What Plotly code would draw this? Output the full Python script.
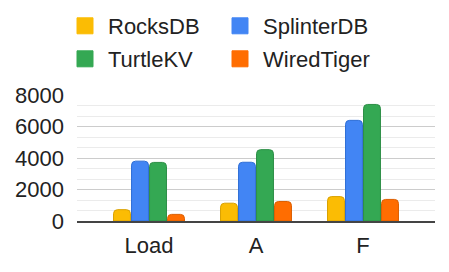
import plotly.graph_objects as go

categories = ["Load", "A", "F"]
series_names = ["RocksDB", "SplinterDB", "TurtleKV", "WiredTiger"]
rocksdb = [720, 1130, 1550]
splinterdb = [3800, 3730, 6390]
turtlekv = [3720, 4530, 7400]
wiredtiger = [420, 1240, 1370]
y_ticks = [0, 2000, 4000, 6000, 8000]

values = [rocksdb, splinterdb, turtlekv, wiredtiger]
fills = ["#FBBC04", "#4285F4", "#34A853", "#FF6D01"]
borders = ["#D9A100", "#2F6FD6", "#2C8E46", "#DB5E00"]
legend_ids = ["legend", "legend", "legend2", "legend2"]

W, H = 441, 264  # page body has an 8px margin

fig = go.Figure()
for name, vals, fc, bc in zip(series_names, values, fills, borders):
    fig.add_trace(go.Bar(
        x=categories, y=vals, name=name, showlegend=False,
        marker=dict(color=fc, line=dict(color=bc, width=1), cornerradius=4),
    ))
for name, fc, lg in zip(series_names, fills, legend_ids):
    fig.add_trace(go.Scatter(
        x=[None], y=[None], mode="markers", name=name, legend=lg,
        marker=dict(symbol="square", size=20, color=fc, line=dict(color=fc, width=1)),
    ))

font = dict(family="Liberation Sans, Arial", size=22, color="#222222")
legend_common = dict(
    orientation="h", xref="container", yref="container",
    x=54 / W, xanchor="left", yanchor="middle",
    itemwidth=36,
    entrywidth=104, entrywidthmode="pixels", font=font,
    bgcolor="rgba(0,0,0,0)", itemsizing="trace", tracegroupgap=0,
)
fig.update_layout(
    width=W, height=H,
    margin=dict(l=69, r=14, t=87, b=51, autoexpand=False),
    paper_bgcolor="white", plot_bgcolor="white",
    barmode="group", bargap=0.327, bargroupgap=0.06,
    font=font,
    legend=dict(legend_common, y=1 - 18 / H),
    legend2=dict(legend_common, y=1 - 51 / H),
    xaxis=dict(
        showgrid=False, showline=True, linecolor="#444444", linewidth=2,
        range=[-0.673, 2.673], ticks="", ticklabelstandoff=4, tickfont=font,
        fixedrange=True,
    ),
    yaxis=dict(
        range=[0, 8000], tickvals=y_ticks, ticktext=[str(v) for v in y_ticks],
        showgrid=True, gridcolor="#CCCCCC", gridwidth=1, zeroline=False,
        minor=dict(dtick=2000 / 3, tick0=0, showgrid=True, gridcolor="#EBEBEB", gridwidth=1),
        ticks="", ticklabelstandoff=12, tickfont=font, fixedrange=True,
    ),
)
fig.write_html("out.html")
